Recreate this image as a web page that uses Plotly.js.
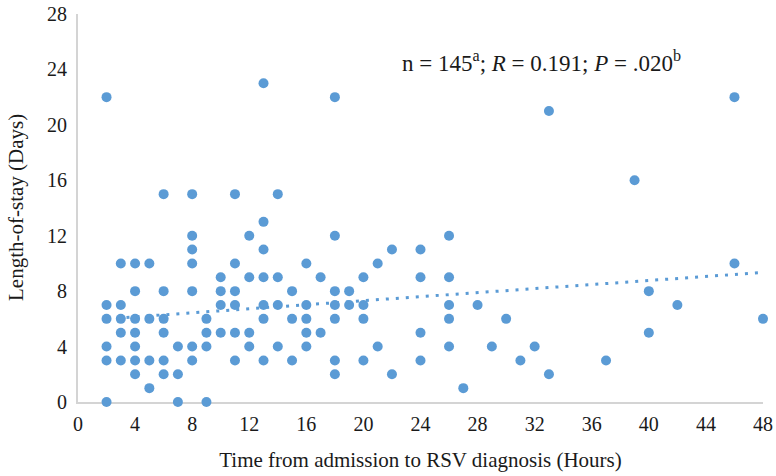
<!DOCTYPE html>
<html>
<head>
<meta charset="utf-8">
<script src="https://cdn.plot.ly/plotly-3.0.1.min.js"></script>
<style>
  html, body { margin: 0; padding: 0; background: #ffffff; }
  #plot { width: 776px; height: 476px; }
</style>
</head>
<body>
<div id="plot"></div>
<script>
// --- datos (horas hasta diagnóstico, días de estancia) ---
const hours = [
  2, 2, 2, 2, 2, 2,
  3, 3, 3, 3, 3,
  4, 4, 4, 4, 4, 4, 4,
  5, 5, 5, 5,
  6, 6, 6, 6, 6, 6,
  7, 7, 7,
  8, 8, 8, 8, 8, 8, 8,
  9, 9, 9, 9,
  10, 10, 10, 10,
  11, 11, 11, 11, 11, 11,
  12, 12, 12, 12,
  13, 13, 13, 13, 13, 13, 13,
  14, 14, 14, 14,
  15, 15, 15,
  16, 16, 16, 16, 16,
  17, 17,
  18, 18, 18, 18, 18, 18, 18,
  19, 19,
  20, 20, 20, 20,
  21, 21,
  22, 22,
  24, 24, 24, 24,
  26, 26, 26, 26, 26,
  27, 28, 29, 30, 31, 32,
  33, 33,
  37, 39,
  40, 40,
  42,
  46, 46,
  48
];
const days = [
  22, 7, 6, 4, 3, 0,
  10, 7, 6, 5, 3,
  10, 8, 6, 5, 4, 3, 2,
  10, 6, 3, 1,
  15, 8, 6, 5, 3, 2,
  4, 2, 0,
  15, 12, 11, 10, 8, 4, 3,
  6, 5, 4, 0,
  9, 8, 7, 5,
  15, 10, 8, 7, 5, 3,
  12, 9, 5, 4,
  23, 13, 11, 9, 7, 6, 3,
  15, 9, 7, 4,
  8, 6, 3,
  10, 7, 6, 5, 4,
  9, 5,
  22, 12, 8, 7, 6, 3, 2,
  8, 7,
  9, 7, 6, 3,
  10, 4,
  11, 2,
  11, 9, 5, 3,
  12, 9, 7, 6, 4,
  1, 7, 4, 6, 3, 4,
  21, 2,
  3, 16,
  8, 5,
  7,
  22, 10,
  6
];

// línea de tendencia (extremos)
const trendHours = [2, 48];
const trendDays = [6.0, 9.35];

const xTicks = [0, 4, 8, 12, 16, 20, 24, 28, 32, 36, 40, 44, 48];
const yTicks = [0, 4, 8, 12, 16, 20, 24, 28];

const statsText = 'n = 145<sup>a</sup>; <i>R</i> = 0.191; <i>P</i> = .020<sup>b</sup>';
const yTitle = 'Length-of-stay (Days)';

const blue = '#5b9bd5';
const ink = '#1a1a1a';
const serif = 'Liberation Serif, Times New Roman, serif';
const invisible = 'rgba(0,0,0,0)';

const puntos = {
  x: hours,
  y: days,
  type: 'scatter',
  mode: 'markers',
  marker: { size: 10, color: blue },
  cliponaxis: false,
  hoverinfo: 'x+y'
};

const tendencia = {
  x: trendHours,
  y: trendDays,
  type: 'scatter',
  mode: 'lines',
  line: { color: blue, width: 3, dash: '3px,7px' },
  hoverinfo: 'skip'
};

const layout = {
  width: 776,
  height: 476,
  margin: { l: 78, r: 13, t: 14, b: 74 },
  paper_bgcolor: '#ffffff',
  plot_bgcolor: '#ffffff',
  showlegend: false,
  font: { family: serif, color: ink, size: 19 },
  xaxis: {
    range: [0, 48],
    tickvals: xTicks,
    ticks: 'outside',
    ticklen: 3,
    tickcolor: invisible,
    showgrid: false,
    zeroline: false,
    showline: true,
    linecolor: '#d4d4d4',
    linewidth: 2,
    layer: 'below traces',
    tickfont: { family: serif, size: 20, color: ink },
    title: {
      text: 'Time from admission to RSV diagnosis (Hours)',
      font: { family: serif, size: 21, color: ink },
      standoff: 18
    }
  },
  yaxis: {
    range: [0, 28],
    tickvals: yTicks,
    ticks: 'outside',
    ticklen: 5,
    tickcolor: invisible,
    showgrid: false,
    zeroline: false,
    showline: true,
    linecolor: '#d4d4d4',
    linewidth: 2,
    layer: 'below traces',
    tickfont: { family: serif, size: 20, color: ink }
  },
  annotations: [{
    x: 32.5,
    y: 24.6,
    xref: 'x',
    yref: 'y',
    text: statsText,
    showarrow: false,
    font: { family: serif, size: 23, color: ink }
  }, {
    // título del eje Y, más pegado al borde que lo que permite standoff
    x: -0.0905,
    y: 0.5,
    xref: 'paper',
    yref: 'paper',
    xanchor: 'center',
    yanchor: 'middle',
    textangle: -90,
    text: yTitle,
    showarrow: false,
    font: { family: serif, size: 21, color: ink }
  }]
};

Plotly.newPlot('plot', [puntos, tendencia], layout, { displayModeBar: false });
</script>
</body>
</html>
